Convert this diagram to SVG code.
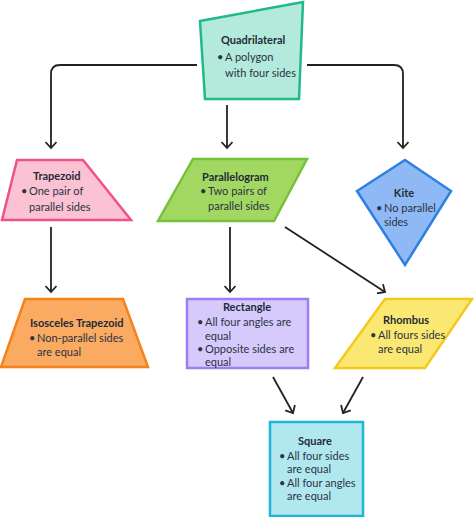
<svg xmlns="http://www.w3.org/2000/svg" width="474" height="517" viewBox="0 0 474 517">
<defs>
<style>
.t{font-family:Lato,"Liberation Sans",sans-serif;font-size:11px;font-weight:bold;fill:#232b38}
.b{font-family:Lato,"Liberation Sans",sans-serif;font-size:11px;fill:#2a3342}
.c{fill:none;stroke:#222;stroke-width:1.8;marker-end:url(#ah)}
.s{stroke-width:2.5;stroke-linejoin:miter}
</style>
<marker id="ah" viewBox="0 0 12 12" refX="9" refY="6" markerWidth="12" markerHeight="12" markerUnits="userSpaceOnUse" orient="auto">
<path d="M3,0.5 L9,6 L3,11.5" fill="none" stroke="#222" stroke-width="1.8"/>
</marker>
</defs>
<rect width="474" height="517" fill="#fff"/>
<g id="connectors">
<path class="c" d="M197,65 H60 Q51,65 51,74 V148"/>
<path class="c" d="M227,105 V148"/>
<path class="c" d="M307,65 H394 Q403,65 403,74 V148"/>
<path class="c" d="M51,227 V292"/>
<path class="c" d="M230,227 V292"/>
<path class="c" d="M285,227 L385,292"/>
<path class="c" d="M273,377 L293,413"/>
<path class="c" d="M363,377 L343,413"/>
</g>
<g id="quadrilateral">
<polygon class="s" points="200,21 303,2 299,99 205,99" fill="#b3eadb" stroke="#20b98a"/>
<text class="t" x="221" y="44">Quadrilateral</text>
<text class="b" x="217" y="61">•</text><text class="b" x="225" y="61">A polygon</text>
<text class="b" x="225" y="77">with four sides</text>
</g>
<g id="trapezoid">
<polygon class="s" points="17,160 83,160 131,220 2,220" fill="#fbc2d4" stroke="#ef528a"/>
<text class="t" x="33" y="180">Trapezoid</text>
<text class="b" x="21" y="195">•</text><text class="b" x="29" y="195">One pair of</text>
<text class="b" x="29" y="211">parallel sides</text>
</g>
<g id="parallelogram">
<polygon class="s" points="193,159 307,159 274,221 158,221" fill="#a2d862" stroke="#76c13c"/>
<text class="t" x="202" y="181">Parallelogram</text>
<text class="b" x="200" y="195">•</text><text class="b" x="208" y="195">Two pairs of</text>
<text class="b" x="208" y="210">parallel sides</text>
</g>
<g id="kite">
<polygon class="s" points="405,160 451,191 405,265 357,191" fill="#8fb9f5" stroke="#2e7fe4"/>
<text class="t" x="404" y="197" text-anchor="middle">Kite</text>
<text class="b" x="376" y="212">•</text><text class="b" x="384" y="212">No parallel</text>
<text class="b" x="384" y="226">sides</text>
</g>
<g id="isosceles-trapezoid">
<polygon class="s" points="25,299 123,299 148,367 1,367" fill="#fbaa62" stroke="#f4831f"/>
<text class="t" x="30" y="327">Isosceles Trapezoid</text>
<text class="b" x="29" y="342">•</text><text class="b" x="37" y="342">Non-parallel sides</text>
<text class="b" x="37" y="356">are equal</text>
</g>
<g id="rectangle">
<rect class="s" x="187" y="299" width="121" height="69" fill="#d6c9fb" stroke="#9c80f3"/>
<text class="t" x="247" y="311" text-anchor="middle">Rectangle</text>
<text class="b" x="197" y="326">•</text><text class="b" x="205" y="326">All four angles are</text>
<text class="b" x="205" y="340">equal</text>
<text class="b" x="197" y="353">•</text><text class="b" x="205" y="353">Opposite sides are</text>
<text class="b" x="205" y="366">equal</text>
</g>
<g id="rhombus">
<polygon class="s" points="385,299 472,299 425,368 335,368" fill="#fbe873" stroke="#f4c91a"/>
<text class="t" x="383" y="324">Rhombus</text>
<text class="b" x="370" y="339">•</text><text class="b" x="378" y="339">All fours sides</text>
<text class="b" x="378" y="353">are equal</text>
</g>
<g id="square">
<rect class="s" x="270" y="422" width="93" height="94" fill="#b1e8f0" stroke="#1db6d4"/>
<text class="t" x="315" y="445" text-anchor="middle">Square</text>
<text class="b" x="279" y="460">•</text><text class="b" x="287" y="460">All four sides</text>
<text class="b" x="287" y="473">are equal</text>
<text class="b" x="279" y="487">•</text><text class="b" x="287" y="487">All four angles</text>
<text class="b" x="287" y="500">are equal</text>
</g>
</svg>
